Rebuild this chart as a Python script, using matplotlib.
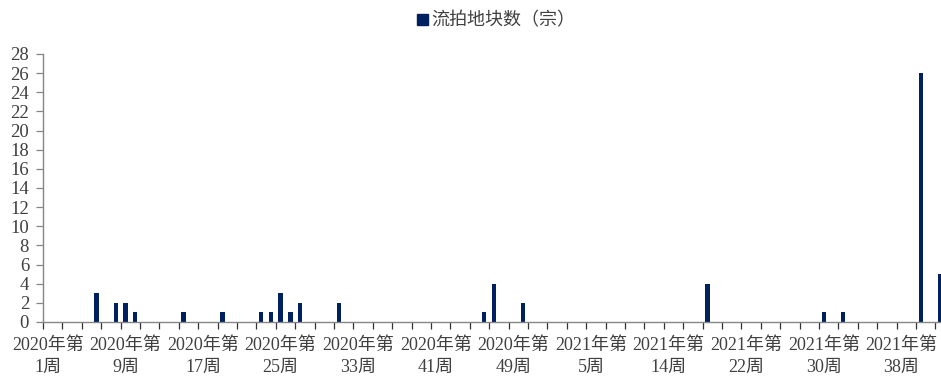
import numpy as np
import matplotlib
matplotlib.use('Agg')
import matplotlib.pyplot as plt
from matplotlib.patches import Patch

plt.rcParams['font.family'] = ['Liberation Serif', 'Noto Sans CJK SC']

# weekly categories (2021 week 7 absent in source)
weeks_2020 = list(range(1, 53))
weeks_2021 = list(range(1, 7)) + list(range(8, 43))

vals_2020 = [0, 0, 0, 0, 0, 3, 0, 2, 2, 1,
             0, 0, 0, 0, 1, 0, 0, 0, 1, 0,
             0, 0, 1, 1, 3, 1, 2, 0, 0, 0,
             2, 0, 0, 0, 0, 0, 0, 0, 0, 0,
             0, 0, 0, 0, 0, 1, 4, 0, 0, 2,
             0, 0]
vals_2021 = [0, 0, 0, 0, 0, 0, 0, 0, 0, 0,
             0, 0, 0, 0, 0, 0, 4, 0, 0, 0,
             0, 0, 0, 0, 0, 0, 0, 0, 1, 0,
             1, 0, 0, 0, 0, 0, 0, 0, 26, 0,
             5]

labels = ['2020年第\n{}周'.format(w) for w in weeks_2020] + \
         ['2021年第\n{}周'.format(w) for w in weeks_2021]
values = vals_2020 + vals_2021
series_name = '流拍地块数（宗）'

navy = '#002060'
txt = '#404040'
axc = '#868686'

fig = plt.figure(figsize=(9.41, 3.78), dpi=100)
ax = fig.add_axes([43 / 941, 56 / 378, 902 / 941, 268 / 378])

x = np.arange(len(values))
ax.bar(x, values, width=0.45, color=navy, zorder=2)

ax.set_xlim(-0.5, len(values) - 0.5)
ax.set_ylim(0, 28)
ax.set_yticks(range(0, 29, 2))

ax.set_xticks(x[::8])
ax.set_xticklabels(labels[::8], fontsize=13, color=txt, linespacing=1.35)
ax.set_xticks(np.arange(-0.5, len(values), 2), minor=True)
ax.tick_params(axis='x', which='major', length=0, pad=11)
ax.tick_params(axis='x', which='minor', length=5, width=0.9, color='#333333', direction='out')
ax.tick_params(axis='y', length=5, width=0.9, color=axc, labelsize=13.5, labelcolor=txt, pad=5)

for s in ['top', 'right']:
    ax.spines[s].set_visible(False)
for s in ['left', 'bottom']:
    ax.spines[s].set_color(axc)
    ax.spines[s].set_linewidth(1.0)
    ax.spines[s].set_zorder(3)

fig.legend(handles=[Patch(color=navy, label=series_name)], loc='center',
           bbox_to_anchor=(496 / 941, 1 - 21 / 378), frameon=False,
           handlelength=0.6, handleheight=0.6, handletextpad=0.2,
           prop={'size': 13}, labelcolor=txt)

fig.savefig('out.png', dpi=100)
